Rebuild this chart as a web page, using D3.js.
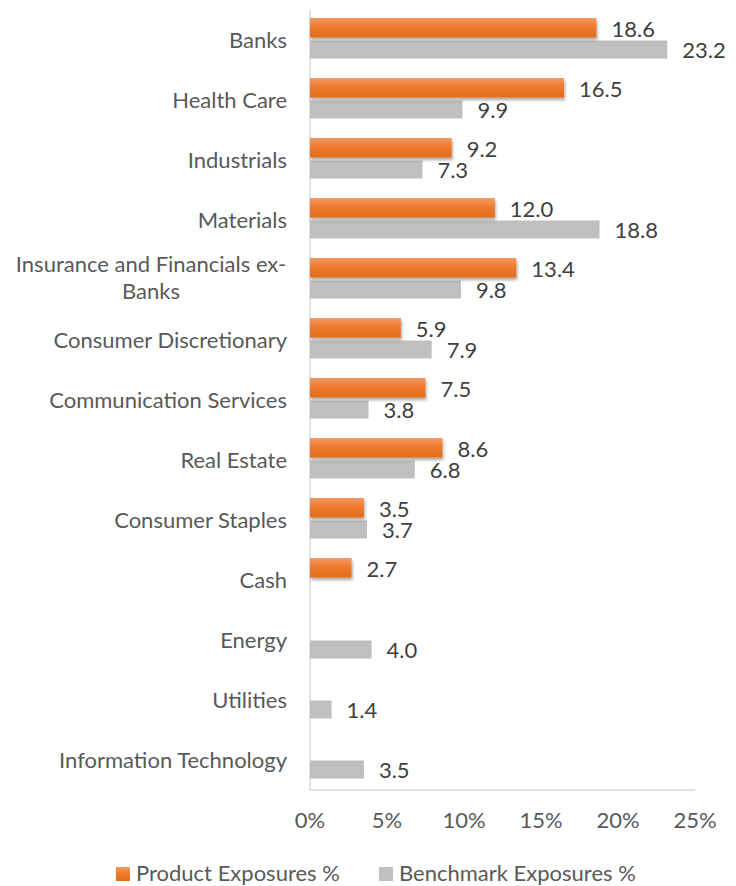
<!DOCTYPE html>
<html><head><meta charset="utf-8">
<script src="https://cdn.jsdelivr.net/npm/d3@7"></script>
<style>body{margin:0;background:#fff}svg{display:block}text{font-family:Lato,sans-serif}</style>
</head><body><div id="c"></div>
<script>
const categories = ["Banks","Health Care","Industrials","Materials","Insurance and Financials ex-Banks","Consumer Discretionary","Communication Services","Real Estate","Consumer Staples","Cash","Energy","Utilities","Information Technology"];
const productValues = [18.6,16.5,9.2,12.0,13.4,5.9,7.5,8.6,3.5,2.7,null,null,null];
const benchmarkValues = [23.2,9.9,7.3,18.8,9.8,7.9,3.8,6.8,3.7,null,4.0,1.4,3.5];
const xTicks = [0,5,10,15,20,25];
const seriesNames = ["Product Exposures %","Benchmark Exposures %"];

const W=736,H=886;
const svg=d3.select("#c").append("svg").attr("width",W).attr("height",H);
const defs=svg.append("defs");
const g1=defs.append("linearGradient").attr("id","og").attr("x1",0).attr("y1",0).attr("x2",0).attr("y2",1);
g1.append("stop").attr("offset","0%").attr("stop-color","#F59A64");
g1.append("stop").attr("offset","45%").attr("stop-color","#EF7B2E");
g1.append("stop").attr("offset","100%").attr("stop-color","#E36C1A");
const f=defs.append("filter").attr("id","sh").attr("x","-5%").attr("y","-20%").attr("width","115%").attr("height","180%");
f.append("feDropShadow").attr("dx",1).attr("dy",2.5).attr("stdDeviation",1.8).attr("flood-color","#000").attr("flood-opacity",0.35);

const x=d3.scaleLinear().domain([0,25]).range([310,695]);
const y=d3.scaleBand().domain(categories).range([10,790]).padding(0);
const bw=y.bandwidth();

// axes lines
svg.append("line").attr("x1",x(0)).attr("x2",x(0)).attr("y1",10).attr("y2",790).attr("stroke","#D9D9D9").attr("stroke-width",1.5);
svg.append("line").attr("x1",x(0)).attr("x2",x(25)).attr("y1",790).attr("y2",790).attr("stroke","#D9D9D9").attr("stroke-width",1.5);

const fs=22;
// category labels
categories.forEach((c,i)=>{
  const cy=y(c)+bw/2;
  if(c.length>28){
    const t=svg.append("text").attr("text-anchor","middle").attr("x",151).attr("fill","#595959").attr("font-size",fs);
    t.append("tspan").attr("x",151).attr("y",cy-8).text("Insurance and Financials ex-");
    t.append("tspan").attr("x",151).attr("y",cy+19).text("Banks");
  } else {
    svg.append("text").attr("text-anchor","end").attr("x",287).attr("y",cy+7.5).attr("fill","#595959").attr("font-size",fs).text(c);
  }
});

const oOff=8,oH=19.5,gOff=30.5,gH=18;
// benchmark bars
categories.forEach((c,i)=>{
  const v=benchmarkValues[i]; if(v==null) return;
  svg.append("rect").attr("x",x(0)).attr("y",y(c)+gOff).attr("width",x(v)-x(0)).attr("height",gH).attr("fill","#BFBFBF");
  svg.append("text").attr("x",x(v)+15).attr("y",y(c)+gOff+gH/2+8).attr("fill","#404040").attr("font-size",fs).text(v.toFixed(1));
});
categories.forEach((c,i)=>{
  const v=productValues[i]; if(v==null) return;
  svg.append("rect").attr("x",x(0)).attr("y",y(c)+oOff).attr("width",x(v)-x(0)).attr("height",oH).attr("fill","url(#og)").attr("filter","url(#sh)");
  svg.append("text").attr("x",x(v)+15).attr("y",y(c)+oOff+oH/2+9).attr("fill","#404040").attr("font-size",fs).text(v.toFixed(1));
});

// x tick labels
xTicks.forEach(t=>{
  svg.append("text").attr("x",x(t)).attr("y",828).attr("text-anchor","middle").attr("fill","#595959").attr("font-size",fs).text(t+"%");
});

// legend
const lg=[{n:seriesNames[0],fill:"url(#og)",sx:116},{n:seriesNames[1],fill:"#BFBFBF",sx:379}];
lg.forEach(l=>{
  svg.append("rect").attr("x",l.sx).attr("y",867).attr("width",14).attr("height",14).attr("fill",l.fill);
  svg.append("text").attr("x",l.sx+20).attr("y",881).attr("fill","#595959").attr("font-size",fs).text(l.n);
});
</script></body></html>
